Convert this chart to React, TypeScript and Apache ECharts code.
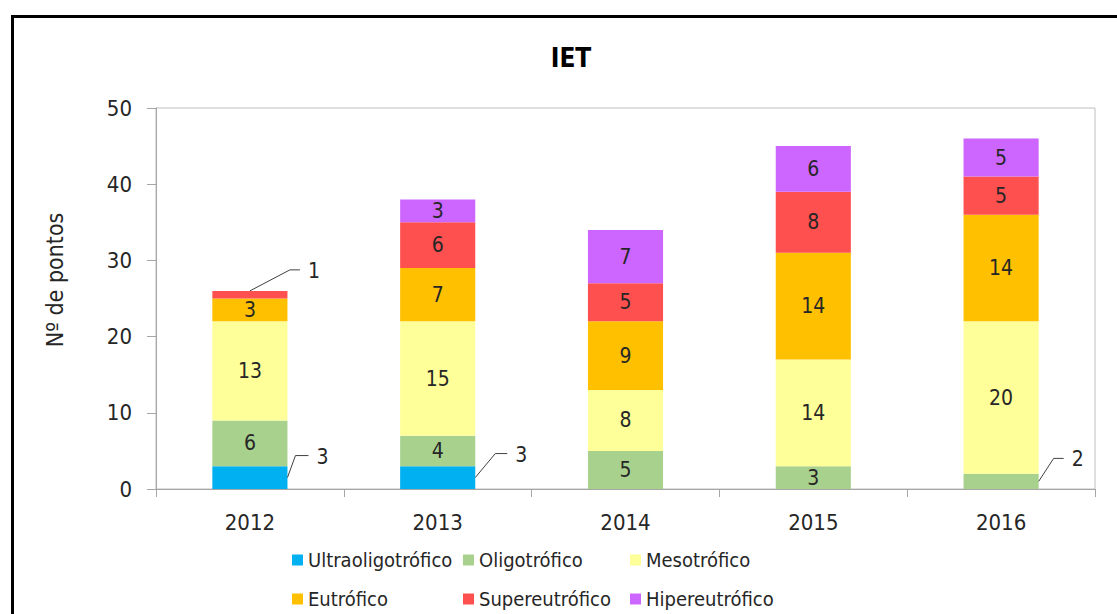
import React, { useEffect, useRef } from "react";
import * as echarts from "echarts";

const categories = ["2012", "2013", "2014", "2015", "2016"];
const seriesNames = [
  "Ultraoligotrófico",
  "Oligotrófico",
  "Mesotrófico",
  "Eutrófico",
  "Supereutrófico",
  "Hipereutrófico",
];
const ultraoligotrofico = [3, 3, 0, 0, 0];
const oligotrofico = [6, 4, 5, 3, 2];
const mesotrofico = [13, 15, 8, 14, 20];
const eutrofico = [3, 7, 9, 14, 14];
const supereutrofico = [1, 6, 5, 8, 5];
const hipereutrofico = [0, 3, 7, 6, 5];
const seriesValues = [
  ultraoligotrofico,
  oligotrofico,
  mesotrofico,
  eutrofico,
  supereutrofico,
  hipereutrofico,
];
const yTicks = [0, 10, 20, 30, 40, 50];
const yAxisTitle = "Nº de pontos";
const chartTitle = "IET";
// callouts: [series index, category index, anchor mode]
const callouts: [number, number, string][] = [
  [0, 0, "mid"],
  [4, 0, "top"],
  [0, 1, "mid"],
  [1, 4, "mid"],
];

const colors = ["#00B0F0", "#A9D18E", "#FFFF99", "#FFC000", "#FF5050", "#CC66FF"];
const FONT = "'DejaVu Sans Condensed', 'DejaVu Sans', sans-serif";
const TEXT = "#262626";

// pixel styling of each callout: [anchor x side, elbow dx, elbow dy, horizontal length]
const calloutStyle: [string, number, number, number][] = [
  ["right", 8, -22, 13],
  ["center", 40, -21, 10],
  ["right", 20, -24, 12],
  ["right", 15, -23, 10],
];

export default function App() {
  const ref = useRef<HTMLDivElement>(null);
  useEffect(() => {
    if (!ref.current) return;
    const chart = echarts.init(ref.current, null, { renderer: "svg" });

    const isCallout = (s: number, c: number) =>
      callouts.some(([cs, cc]) => cs === s && cc === c);

    const barSeries = seriesNames.map((name, s) => ({
      name,
      type: "bar",
      stack: "total",
      barWidth: "40%",
      itemStyle: { color: colors[s] },
      label: {
        show: true,
        position: "inside",
        fontSize: 21,
        fontFamily: FONT,
        color: TEXT,
      },
      data: seriesValues[s].map((v, c) => ({
        value: v,
        label: { show: v > 0 && !isCallout(s, c) },
      })),
    }));

    const calloutData = callouts.map(([s, c, mode]) => {
      let base = 0;
      for (let k = 0; k < s; k++) base += seriesValues[k][c];
      const v = seriesValues[s][c];
      const anchor = mode === "top" ? base + v : base + v / 2;
      return [c, anchor, v];
    });

    const calloutSeries = {
      type: "custom",
      name: "callouts",
      silent: true,
      z: 10,
      coordinateSystem: "cartesian2d",
      data: calloutData,
      renderItem: (params: any, api: any) => {
        const idx = params.dataIndex;
        const st = calloutStyle[idx];
        const pt = api.coord([api.value(0), api.value(1)]);
        const catW = api.size([1, 0])[0];
        const barW = catW * 0.4;
        const x0 = st[0] === "right" ? pt[0] + barW / 2 : pt[0];
        const y0 = pt[1];
        const x1 = x0 + st[1];
        const y1 = y0 + st[2];
        const x2 = x1 + st[3];
        return {
          type: "group",
          children: [
            {
              type: "polyline",
              shape: { points: [[x0, y0], [x1, y1], [x2, y1]] },
              style: { stroke: "#404040", lineWidth: 1, fill: null },
            },
            {
              type: "text",
              x: x2 + 8,
              y: y1 + 1,
              style: {
                text: String(api.value(2)),
                fontSize: 21,
                fontFamily: FONT,
                fill: TEXT,
                textAlign: "left",
                textVerticalAlign: "middle",
              },
            },
          ],
        };
      },
    };

    const legendPos: [number, number][] = [
      [292, 550],
      [463, 550],
      [630, 550],
      [292, 589],
      [463, 589],
      [630, 589],
    ];
    const legends = seriesNames.map((name, i) => ({
      data: [name],
      left: legendPos[i][0],
      top: legendPos[i][1],
      orient: "horizontal",
      icon: "rect",
      itemWidth: 11,
      itemHeight: 11,
      padding: 0,
      selectedMode: false,
      textStyle: { fontSize: 20, fontFamily: FONT, color: TEXT, padding: [0, 0, 0, 0] },
    }));

    chart.setOption({
      animation: false,
      backgroundColor: "#fff",
      grid: {
        left: 156,
        right: 22,
        top: 108,
        bottom: 125,
        show: true,
        borderColor: "#BFBFBF",
        borderWidth: 1,
      },
      legend: legends,
      xAxis: {
        type: "category",
        data: categories,
        axisLine: { show: true, lineStyle: { color: "#A6A6A6" } },
        axisTick: { show: true, length: 8, interval: 0, lineStyle: { color: "#A6A6A6" } },
        axisLabel: { fontSize: 22, fontFamily: FONT, color: TEXT, margin: 22 },
      },
      yAxis: {
        type: "value",
        min: yTicks[0],
        max: yTicks[yTicks.length - 1],
        interval: yTicks[1] - yTicks[0],
        axisLine: { show: true, lineStyle: { color: "#A6A6A6" } },
        axisTick: { show: true, length: 9, lineStyle: { color: "#A6A6A6" } },
        axisLabel: { fontSize: 22, fontFamily: FONT, color: TEXT, margin: 24 },
        splitLine: { show: false },
      },
      graphic: [
        {
          type: "rect",
          shape: { x: 12.5, y: 16.5, width: 1300, height: 800 },
          style: { fill: "none", stroke: "#000", lineWidth: 3 },
          silent: true,
        },
        {
          type: "text",
          x: 571,
          y: 58,
          style: {
            text: chartTitle,
            font: "bold 26px " + FONT,
            fill: "#000",
            textAlign: "center",
            textVerticalAlign: "middle",
          },
        },
        {
          type: "text",
          x: 55,
          y: 280,
          rotation: Math.PI / 2,
          style: {
            text: yAxisTitle,
            font: "23px " + FONT,
            fill: TEXT,
            textAlign: "center",
            textVerticalAlign: "middle",
          },
        },
      ],
      series: [...barSeries, calloutSeries],
    });
    return () => chart.dispose();
  }, []);
  return (
    <div
      ref={ref}
      style={{ position: "fixed", left: 0, top: 0, width: 1117, height: 614 }}
    />
  );
}
